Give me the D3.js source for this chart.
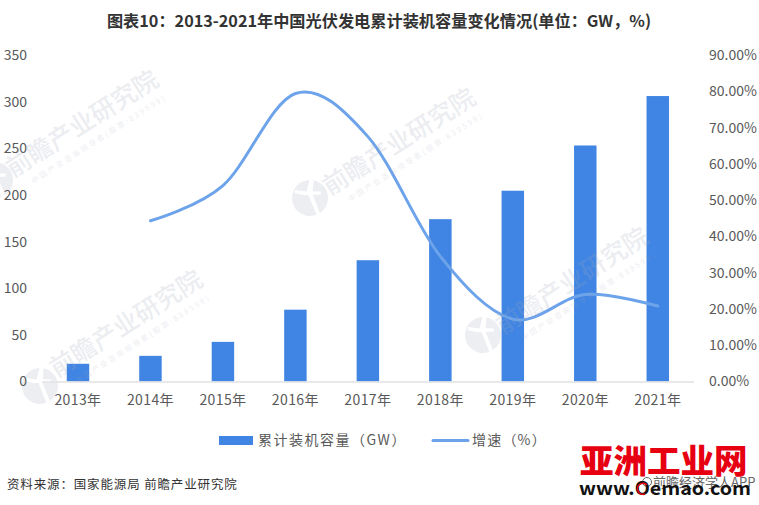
<!DOCTYPE html>
<html>
<head>
<meta charset="utf-8">
<script src="https://cdn.jsdelivr.net/npm/d3@7"></script>
<style>
  html, body { margin: 0; padding: 0; background: #fff; }
  svg { display: block; }
  text { font-family: "Noto Sans CJK SC", sans-serif; }
</style>
</head>
<body>
<svg id="chart" width="759" height="505"></svg>
<script>
const years = ['2013年', '2014年', '2015年', '2016年', '2017年', '2018年', '2019年', '2020年', '2021年'];
const capacity = [19, 27.5, 42.5, 77, 130, 174, 204.5, 253, 306];
const growth = [null, 44.3, 54, 79.4, 67.5, 34.5, 17.2, 24, 20.8];
const leftTicks = [0, 50, 100, 150, 200, 250, 300, 350];
const rightTicks = [0, 10, 20, 30, 40, 50, 60, 70, 80, 90];

const margin = { top: 55, right: 65, bottom: 123.5, left: 41.75 };
const width = 759, height = 505;
const svg = d3.select('#chart');

const x = d3.scaleBand().domain(years).range([margin.left, width - margin.right]).paddingInner(0.69).paddingOuter(0.345);
const y = d3.scaleLinear().domain([0, 350]).range([height - margin.bottom, margin.top]);
const y2 = d3.scaleLinear().domain([0, 90]).range([height - margin.bottom, margin.top]);

// logo part of the watermark goes under everything
function logo(cx, cy) {
  const g = svg.append('g').attr('transform', `translate(${cx},${cy}) rotate(-12)`);
  g.append('circle').attr('r', 18).attr('fill', '#eceef2');
  g.append('path').attr('d', 'M4,-19L8,-19L4,-6L12,-4L11,-1L1,-3L-5,-4L-14,-8L-13,-11L-2,-7Z').attr('fill', '#fff');
  g.append('path').attr('d', 'M-1,-4L3,-4L7,19L3,19Z').attr('fill', '#fff');
}
[[40, 386], [310, 198], [483, 335], [-5, 180]].forEach(d => logo(d[0], d[1]));

svg.append('text').text('图表10：2013-2021年中国光伏发电累计装机容量变化情况(单位：GW，%)')
  .attr('x', 379).attr('y', 27).attr('text-anchor', 'middle')
  .attr('font-size', 16.2).attr('font-weight', 700).attr('fill', '#333333')
  .attr('font-family', '"Liberation Sans", "Noto Sans CJK SC", sans-serif');

// bars
svg.append('g').selectAll('rect').data(capacity).join('rect')
  .attr('x', (d, i) => x(years[i]))
  .attr('y', d => y(d))
  .attr('width', x.bandwidth())
  .attr('height', d => y(0) - y(d))
  .attr('fill', '#4085e3');

// axes
const axisLeft = d3.axisLeft(y).tickValues(leftTicks).tickSize(0).tickPadding(0);
const gLeft = svg.append('g').attr('transform', 'translate(27,0)').call(axisLeft);
const axisRight = d3.axisRight(y2).tickValues(rightTicks).tickSize(0).tickPadding(0)
  .tickFormat(d => d.toFixed(2) + '%');
const gRight = svg.append('g').attr('transform', 'translate(709,0)').call(axisRight);
const axisBottom = d3.axisBottom(x).tickSize(0).tickPadding(14);
const gBottom = svg.append('g').attr('transform', `translate(0,${y(0)})`).call(axisBottom);

[gLeft, gRight, gBottom].forEach(g => {
  g.select('.domain').remove();
  g.selectAll('text').attr('font-size', 14).attr('fill', '#595959')
    .attr('font-family', '"Noto Sans CJK SC", sans-serif');
});
gBottom.selectAll('text').attr('letter-spacing', 0.4);
svg.append('line').attr('x1', margin.left).attr('x2', width - margin.right)
  .attr('y1', y(0) + 0.5).attr('y2', y(0) + 0.5)
  .attr('stroke', '#e2e2e2').attr('stroke-width', 1.5);

// growth line
const line = d3.line()
  .defined(d => d != null)
  .x((d, i) => x(years[i]) + x.bandwidth() / 2)
  .y(d => y2(d))
  .curve(d3.curveCatmullRom.alpha(0));
svg.append('path').attr('d', line(growth))
  .attr('fill', 'none').attr('stroke', '#6da3ea').attr('stroke-width', 3).attr('stroke-linecap', 'round');

// watermark text is laid over the marks
function watermark(cx, cy) {
  const g = svg.append('g').attr('transform', `translate(${cx},${cy}) rotate(-32.5)`)
    .attr('fill', '#a0a8bc').attr('opacity', 0.2);
  g.append('text').text('前瞻产业研究院').attr('font-size', 25).attr('font-weight', 500);
  g.append('text').text('中国产业咨询领导者(股票:839599)').attr('x', 14).attr('y', 16)
    .attr('font-size', 7.5).attr('letter-spacing', 2.2);
}
[[57, 378], [330, 196], [503, 335], [13, 178]].forEach(d => watermark(d[0], d[1]));

// legend
const legend = svg.append('g');
legend.append('rect').attr('x', 219).attr('y', 436).attr('width', 34).attr('height', 9).attr('fill', '#4085e3');
legend.append('text').text('累计装机容量（GW）').attr('x', 258).attr('y', 445)
  .attr('font-size', 14).attr('letter-spacing', 1.5).attr('fill', '#595959');
legend.append('line').attr('x1', 433).attr('x2', 468).attr('y1', 440.5).attr('y2', 440.5)
  .attr('stroke', '#6da3ea').attr('stroke-width', 3).attr('stroke-linecap', 'round');
legend.append('text').text('增速（%）').attr('x', 472).attr('y', 445)
  .attr('font-size', 14).attr('letter-spacing', 1.2).attr('fill', '#595959');

svg.append('text').text('资料来源：国家能源局 前瞻产业研究院').attr('x', 7).attr('y', 489)
  .attr('font-size', 12.5).attr('letter-spacing', 0.85).attr('fill', '#333333');

// site stamp, bottom right
svg.append('circle').attr('cx', 647).attr('cy', 482).attr('r', 4.5)
  .attr('fill', 'none').attr('stroke', '#666666');
svg.append('text').text('前瞻经济学人APP').attr('x', 653).attr('y', 487)
  .attr('font-size', 13).attr('fill', '#666666');
svg.append('text').text('亚洲工业网').attr('x', 580).attr('y', 473)
  .attr('font-size', 33.5).attr('font-weight', 900).attr('fill', '#e60012');
svg.append('text').text('www.Oemao.com').attr('x', 579).attr('y', 494.5)
  .attr('font-family', '"Liberation Sans", sans-serif')
  .attr('font-size', 18).attr('font-weight', 700).attr('fill', '#111111')
  .attr('textLength', 172).attr('lengthAdjust', 'spacingAndGlyphs');
svg.append('path').attr('d', 'M647,485A5.5,5.5 0 1 0 645,494')
  .attr('fill', 'none').attr('stroke', '#e60012').attr('stroke-width', 1.6);
</script>
</body>
</html>
